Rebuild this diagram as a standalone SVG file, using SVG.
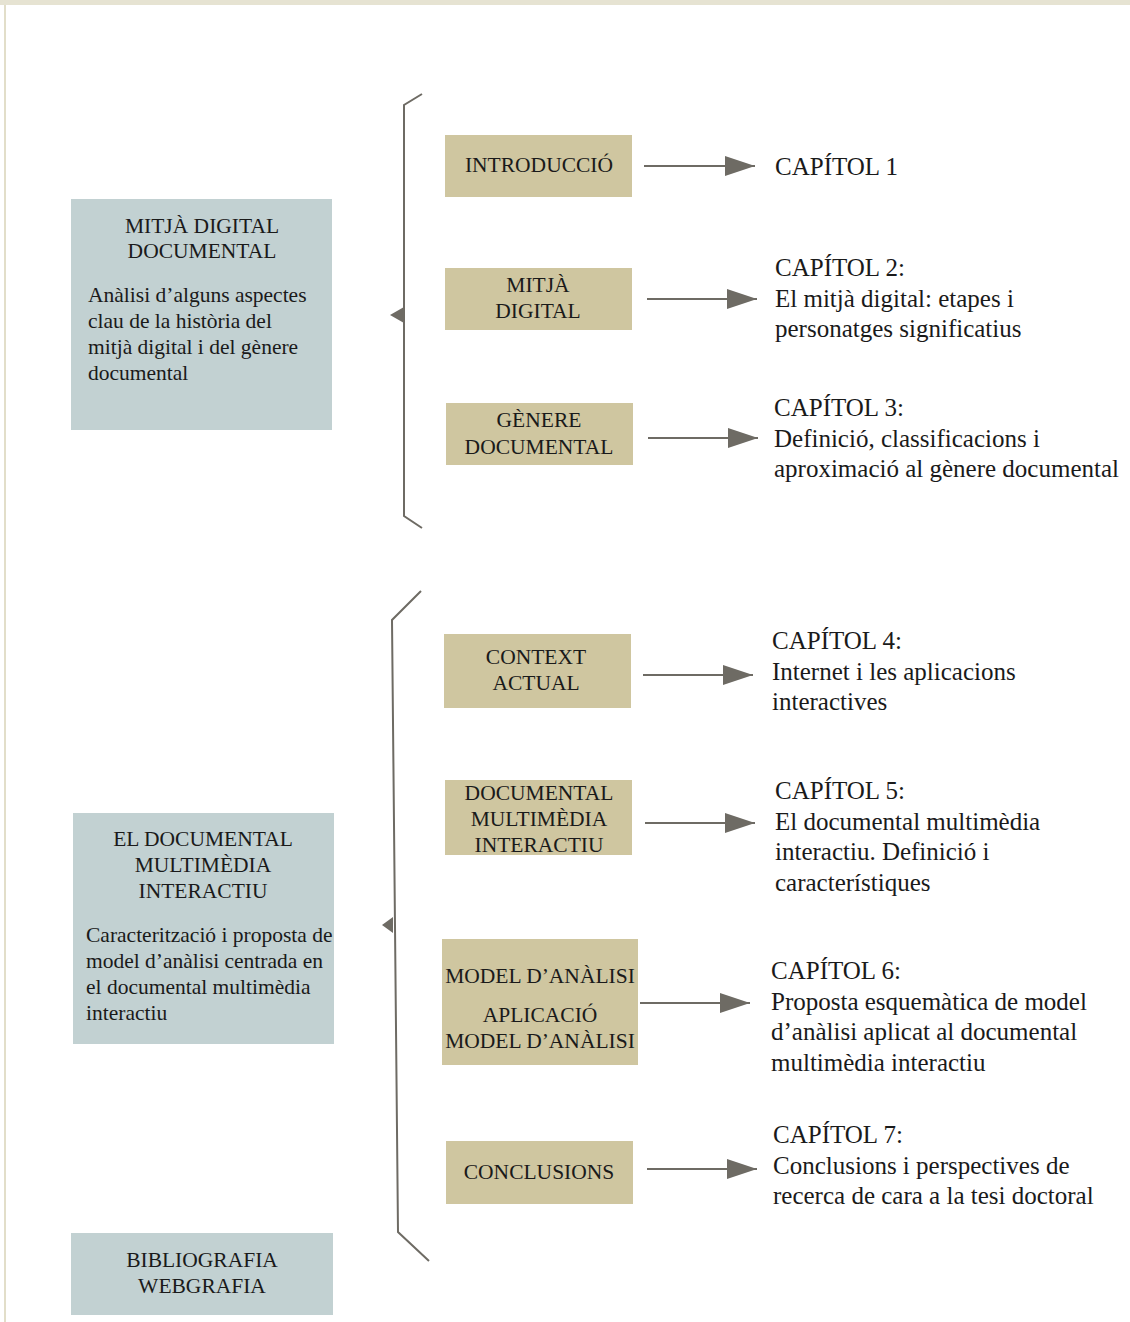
<svg xmlns="http://www.w3.org/2000/svg" width="1130" height="1322" viewBox="0 0 1130 1322">
<defs>
<style>
text{font-family:"Liberation Serif","Times New Roman",serif;fill:#1a1a1a}
.bx{font-size:21.5px;text-anchor:middle}
.p{font-size:21.5px}
.r{font-size:25px}
.blue{fill:#c2d1d2}
.tan{fill:#cfc6a0}
.ln{stroke:#6e6b64;stroke-width:2;fill:none}
.br{stroke:#6e6b64;stroke-width:2;fill:none}
</style>
<marker id="ah" markerWidth="30" markerHeight="20" refX="30" refY="10" orient="auto" markerUnits="userSpaceOnUse">
<path d="M0,0 L30,10 L0,20 Z" fill="#6e6b64"/>
</marker>
</defs>
<rect x="0" y="0" width="1130" height="1322" fill="#ffffff"/>
<rect x="0" y="0" width="1130" height="5" fill="#e6e3d2"/>
<rect x="4" y="5" width="2" height="1317" fill="#e2dec9"/>

<g id="brackets">
<polyline class="br" points="422,94 404,105 404,516 422,528"/>
<path d="M390,315 L404,307 L404,323 Z" fill="#6e6b64"/>
<polyline class="br" points="421,591 392,620 398,1232 429,1261"/>
<path d="M382,925 L393,917 L393,933 Z" fill="#6e6b64"/>
</g>

<g id="left1">
<rect class="blue" x="71" y="199" width="261" height="231"/>
<text class="bx" x="202" y="233">MITJÀ DIGITAL</text>
<text class="bx" x="202" y="258">DOCUMENTAL</text>
<text class="p" x="88" y="302">Anàlisi d’alguns aspectes</text>
<text class="p" x="88" y="328">clau de la història del</text>
<text class="p" x="88" y="354">mitjà digital i del gènere</text>
<text class="p" x="88" y="380">documental</text>
</g>

<g id="left2">
<rect class="blue" x="73" y="813" width="261" height="231"/>
<text class="bx" x="203" y="846">EL DOCUMENTAL</text>
<text class="bx" x="203" y="872">MULTIMÈDIA</text>
<text class="bx" x="203" y="898">INTERACTIU</text>
<text class="p" x="86" y="942">Caracterització i proposta de</text>
<text class="p" x="86" y="968">model d’anàlisi centrada en</text>
<text class="p" x="86" y="994">el documental multimèdia</text>
<text class="p" x="86" y="1020">interactiu</text>
</g>

<g id="left3">
<rect class="blue" x="71" y="1233" width="262" height="82"/>
<text class="bx" x="202" y="1267">BIBLIOGRAFIA</text>
<text class="bx" x="202" y="1293">WEBGRAFIA</text>
</g>

<g id="n1">
<rect class="tan" x="445" y="135" width="187" height="62"/>
<text class="bx" x="539" y="172">INTRODUCCIÓ</text>
</g>
<g id="n2">
<rect class="tan" x="445" y="268" width="187" height="62"/>
<text class="bx" x="538" y="292">MITJÀ</text>
<text class="bx" x="538" y="318">DIGITAL</text>
</g>
<g id="n3">
<rect class="tan" x="446" y="403" width="187" height="62"/>
<text class="bx" x="539" y="427">GÈNERE</text>
<text class="bx" x="539" y="454">DOCUMENTAL</text>
</g>
<g id="n4">
<rect class="tan" x="444" y="634" width="187" height="74"/>
<text class="bx" x="536" y="664">CONTEXT</text>
<text class="bx" x="536" y="690">ACTUAL</text>
</g>
<g id="n5">
<rect class="tan" x="445" y="780" width="187" height="75"/>
<text class="bx" x="539" y="800">DOCUMENTAL</text>
<text class="bx" x="539" y="826">MULTIMÈDIA</text>
<text class="bx" x="539" y="852">INTERACTIU</text>
</g>
<g id="n6">
<rect class="tan" x="442" y="939" width="196" height="126"/>
<text class="bx" x="540" y="983">MODEL D’ANÀLISI</text>
<text class="bx" x="540" y="1022">APLICACIÓ</text>
<text class="bx" x="540" y="1048">MODEL D’ANÀLISI</text>
</g>
<g id="n7">
<rect class="tan" x="446" y="1141" width="187" height="63"/>
<text class="bx" x="539" y="1179">CONCLUSIONS</text>
</g>

<g id="connectors">
<line class="ln" x1="644" y1="166" x2="755" y2="166" marker-end="url(#ah)"/>
<line class="ln" x1="647" y1="299" x2="757" y2="299" marker-end="url(#ah)"/>
<line class="ln" x1="648" y1="438" x2="758" y2="438" marker-end="url(#ah)"/>
<line class="ln" x1="643" y1="675" x2="753" y2="675" marker-end="url(#ah)"/>
<line class="ln" x1="645" y1="823" x2="755" y2="823" marker-end="url(#ah)"/>
<line class="ln" x1="640" y1="1003" x2="750" y2="1003" marker-end="url(#ah)"/>
<line class="ln" x1="647" y1="1169" x2="757" y2="1169" marker-end="url(#ah)"/>
</g>

<g id="c1"><text class="r" x="775" y="175">CAPÍTOL 1</text></g>
<g id="c2">
<text class="r" x="775" y="276">CAPÍTOL 2:</text>
<text class="r" x="775" y="307">El mitjà digital: etapes i</text>
<text class="r" x="775" y="337">personatges significatius</text>
</g>
<g id="c3">
<text class="r" x="774" y="416">CAPÍTOL 3:</text>
<text class="r" x="774" y="447">Definició, classificacions i</text>
<text class="r" x="774" y="477">aproximació al gènere documental</text>
</g>
<g id="c4">
<text class="r" x="772" y="649">CAPÍTOL 4:</text>
<text class="r" x="772" y="680">Internet i les aplicacions</text>
<text class="r" x="772" y="710">interactives</text>
</g>
<g id="c5">
<text class="r" x="775" y="799">CAPÍTOL 5:</text>
<text class="r" x="775" y="830">El documental multimèdia</text>
<text class="r" x="775" y="860">interactiu. Definició i</text>
<text class="r" x="775" y="891">característiques</text>
</g>
<g id="c6">
<text class="r" x="771" y="979">CAPÍTOL 6:</text>
<text class="r" x="771" y="1010">Proposta esquemàtica de model</text>
<text class="r" x="771" y="1040">d’anàlisi aplicat al documental</text>
<text class="r" x="771" y="1071">multimèdia interactiu</text>
</g>
<g id="c7">
<text class="r" x="773" y="1143">CAPÍTOL 7:</text>
<text class="r" x="773" y="1174">Conclusions i perspectives de</text>
<text class="r" x="773" y="1204">recerca de cara a la tesi doctoral</text>
</g>
</svg>
